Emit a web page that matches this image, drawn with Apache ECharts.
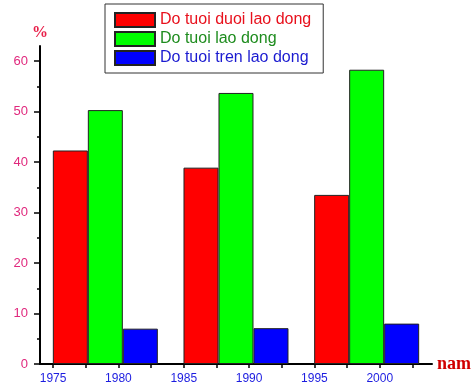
<!DOCTYPE html>
<html>
<head>
<meta charset="utf-8">
<script src="https://cdn.jsdelivr.net/npm/echarts@6/dist/echarts.min.js"></script>
<style>html,body{margin:0;padding:0;background:#fff}#c{width:474px;height:392px}</style>
</head>
<body>
<div id="c"></div>
<script>
const years = [1979, 1989, 1999];
const seriesNames = ['Do tuoi duoi lao dong', 'Do tuoi lao dong', 'Do tuoi tren lao dong'];
const underWorking = [42.3, 38.9, 33.5];
const working = [50.3, 53.7, 58.3];
const aboveWorking = [7.0, 7.1, 8.0];
const xTickLabels = [1975, 1980, 1985, 1990, 1995, 2000];
const xTicks = [1975, 1977.5, 1980, 1982.5, 1985, 1987.5, 1990, 1992.5, 1995, 1997.5, 2000, 2002.5];
const yTickLabels = [0, 10, 20, 30, 40, 50, 60];
const yMinorTicks = [5, 15, 25, 35, 45, 55];

const colors = ['#ff0000', '#00ff00', '#0000ff'];
const textColors = ['#e8101c', '#1e8c1e', '#1a1ad0'];
const values = [underWorking, working, aboveWorking];

const chart = echarts.init(document.getElementById('c'));
const series = seriesNames.map((n, i) => ({
  name: n,
  type: 'bar',
  xAxisIndex: 0,
  yAxisIndex: 0,
  barWidth: 35,
  barGap: '0%',
  data: years.map((y, j) => [y, values[i][j]]),
  itemStyle: { color: colors[i], borderColor: '#222', borderWidth: 1 },
  emphasis: { disabled: true }
}));

chart.setOption({
  animation: false,
  backgroundColor: '#fff',
  legend: {
    orient: 'vertical',
    left: 105,
    top: 4,
    padding: [8, 12, 7, 9],
    itemWidth: 40,
    itemHeight: 14,
    itemGap: 3,
    borderColor: '#333',
    borderWidth: 1,
    icon: 'rect',
    textStyle: { fontFamily: 'Liberation Sans, Arial', fontSize: 16, lineHeight: 16, padding: [0, 0, 0, 0] },
    data: seriesNames.map((n, i) => ({ name: n, textStyle: { color: textColors[i] } }))
  },
  grid: { left: 40, right: 42, top: 46, bottom: 28 },
  xAxis: [{
    type: 'value',
    min: 1974,
    max: 2004,
    name: 'nam',
    nameLocation: 'end',
    nameGap: 5,
    nameTextStyle: { fontFamily: 'Liberation Serif, Times New Roman', fontWeight: 'bold', fontSize: 18, color: '#d00000', verticalAlign: 'middle' },
    axisLine: { lineStyle: { color: '#000', width: 2 } },
    axisTick: { show: true, inside: false, length: 4, lineStyle: { color: '#000', width: 1.5 }, customValues: xTicks },
    axisLabel: { customValues: xTickLabels, formatter: v => String(v), color: '#1c1ce0', fontFamily: 'Liberation Sans, Arial', fontSize: 12, margin: 9 },
    splitLine: { show: false }
  }],
  yAxis: [{
    type: 'value',
    min: 0,
    max: 63,
    name: '%',
    nameLocation: 'end',
    nameGap: 5,
    nameTextStyle: { fontFamily: 'Liberation Serif, Times New Roman', fontWeight: 'bold', fontSize: 16, color: '#e8204a', align: 'center' },
    axisLine: { show: true, lineStyle: { color: '#000', width: 2 } },
    axisTick: { show: true, length: 6, lineStyle: { color: '#000', width: 1.5 }, customValues: yTickLabels },
    axisLabel: { customValues: yTickLabels, color: '#e0287d', fontFamily: 'Liberation Sans, Arial', fontSize: 13, margin: 12 },
    splitLine: { show: false }
  }, {
    type: 'value',
    min: 0,
    max: 63,
    position: 'left',
    axisLine: { show: false },
    axisTick: { show: true, length: 3, lineStyle: { color: '#000', width: 1.5 }, customValues: yMinorTicks },
    axisLabel: { show: false },
    splitLine: { show: false }
  }],
  series: series
});
</script>
</body>
</html>
